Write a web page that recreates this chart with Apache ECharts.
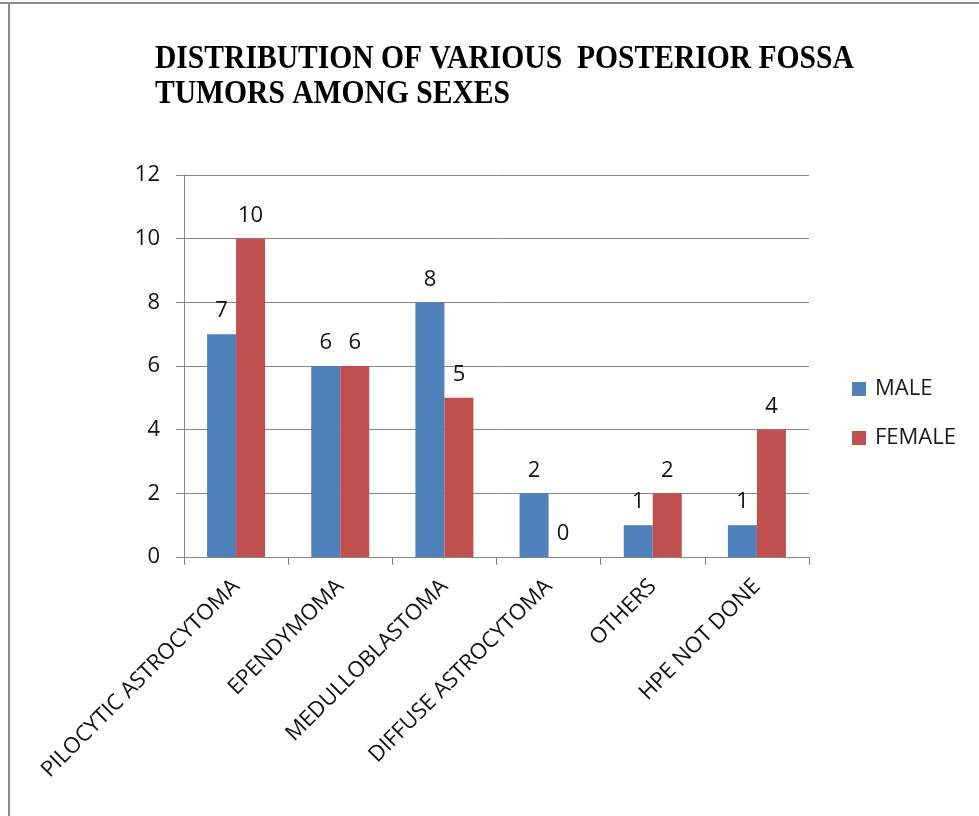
<!DOCTYPE html>
<html>
<head>
<meta charset="utf-8">
<script src="https://cdn.jsdelivr.net/npm/echarts@6/dist/echarts.min.js"></script>
<style>
  html, body { margin: 0; padding: 0; background: #fff; }
  #chart { width: 979px; height: 816px; }
</style>
</head>
<body>
<div id="chart"></div>
<script>
// Posterior fossa tumour counts by sex
const categories = [
  'PILOCYTIC ASTROCYTOMA',
  'EPENDYMOMA',
  'MEDULLOBLASTOMA',
  'DIFFUSE ASTROCYTOMA',
  'OTHERS',
  'HPE NOT DONE'
];
const maleCounts = [7, 6, 8, 2, 1, 1];
const femaleCounts = [10, 6, 5, 0, 2, 4];
const yTicks = { min: 0, max: 12, interval: 2 };

const labelFont = 'Open Sans, Liberation Sans, sans-serif';

const chart = echarts.init(document.getElementById('chart'), null, { renderer: 'canvas' });

chart.setOption({
  backgroundColor: '#ffffff',
  animation: false,
  graphic: [
    // frame lines along top and left edge
    { type: 'line', shape: { x1: 0, y1: 3, x2: 979, y2: 3 }, style: { stroke: '#8c8c8c', lineWidth: 2 } },
    { type: 'line', shape: { x1: 9, y1: 3, x2: 9, y2: 816 }, style: { stroke: '#8c8c8c', lineWidth: 2 } },
    {
      type: 'text', left: 155, top: 42, scaleX: 0.87,
      style: {
        text: 'DISTRIBUTION OF VARIOUS  POSTERIOR FOSSA\nTUMORS AMONG SEXES',
        font: 'bold 34px "Liberation Serif", "Times New Roman", serif',
        lineHeight: 35, fill: '#000'
      }
    }
  ],
  legend: {
    orient: 'vertical',
    left: 852, top: 378, padding: 0,
    itemWidth: 14, itemHeight: 14, itemGap: 27,
    icon: 'rect',
    textStyle: { fontSize: 22, color: '#1a1a1a', fontFamily: labelFont, padding: [0, 0, 0, 4] },
    data: ['MALE', 'FEMALE']
  },
  grid: { left: 184, right: 170, top: 175, bottom: 259, containLabel: false },
  xAxis: {
    type: 'category',
    data: categories,
    axisLine: { lineStyle: { color: '#868686', width: 1 } },
    axisTick: { show: true, length: 8, lineStyle: { color: '#868686' } },
    axisLabel: { rotate: 45, fontSize: 22, color: '#111', fontFamily: labelFont, margin: 26, interval: 0 }
  },
  yAxis: {
    type: 'value',
    min: yTicks.min, max: yTicks.max, interval: yTicks.interval,
    axisLine: { show: true, lineStyle: { color: '#868686' } },
    axisTick: { show: true, length: 8, lineStyle: { color: '#868686' } },
    splitLine: { show: true, lineStyle: { color: '#868686', width: 1 } },
    axisLabel: { fontSize: 22, color: '#111', fontFamily: labelFont, margin: 24 }
  },
  series: [
    {
      name: 'MALE', type: 'bar', data: maleCounts,
      barWidth: 29, barGap: '0%',
      itemStyle: { color: '#4F81BD' },
      label: { show: true, position: 'top', distance: 12, fontSize: 22, color: '#111', fontFamily: labelFont }
    },
    {
      name: 'FEMALE', type: 'bar', data: femaleCounts,
      barWidth: 29, barGap: '0%',
      itemStyle: { color: '#C0504D' },
      label: { show: true, position: 'top', distance: 12, fontSize: 22, color: '#111', fontFamily: labelFont }
    }
  ]
});
</script>
</body>
</html>
